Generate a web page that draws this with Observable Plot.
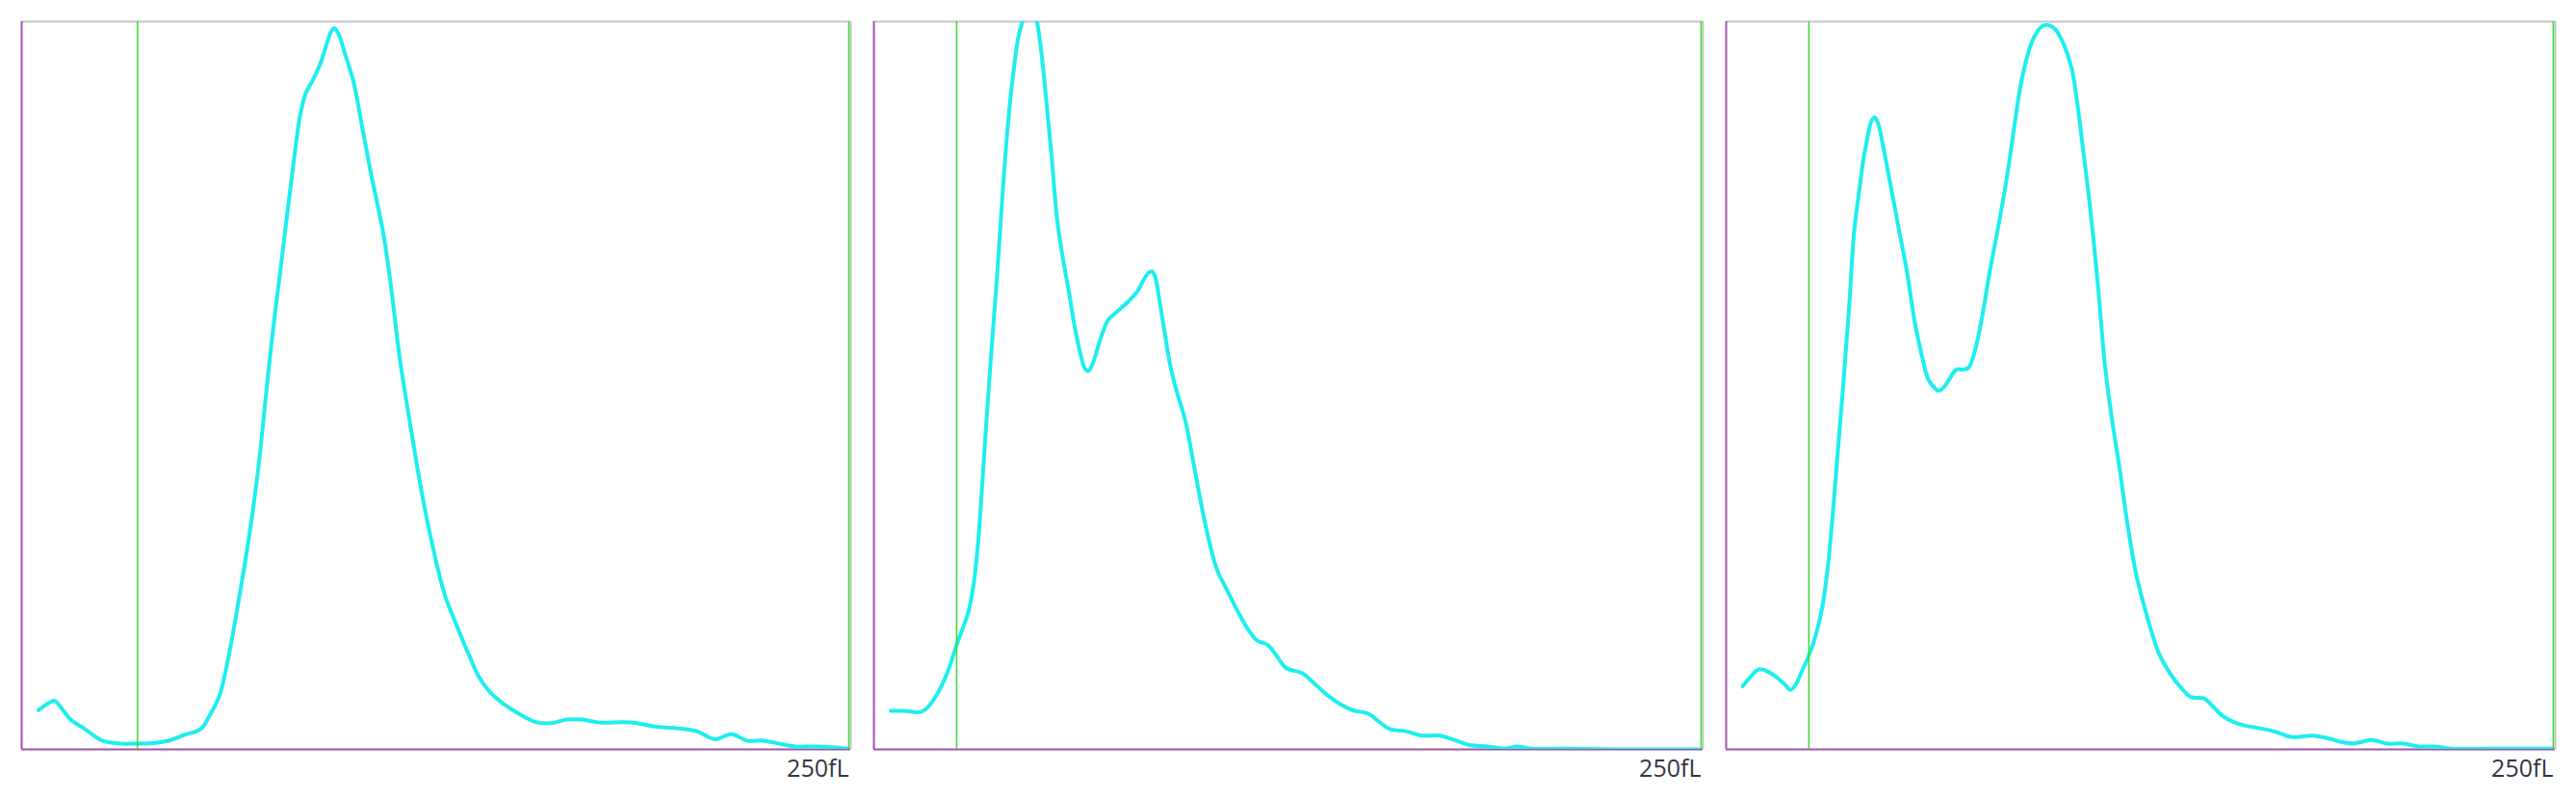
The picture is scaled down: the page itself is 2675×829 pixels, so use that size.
<!DOCTYPE html>
<html>
<head>
<meta charset="utf-8">
<script src="https://cdn.jsdelivr.net/npm/d3@7"></script>
<script src="https://cdn.jsdelivr.net/npm/@observablehq/plot@0.6"></script>
<style>
  html, body { margin: 0; padding: 0; background: #ffffff; width: 2675px; height: 829px; overflow: hidden; }
  #wrap { position: relative; width: 2675px; height: 829px; }
  #wrap svg { position: absolute; top: 0; }
</style>
</head>
<body>
<div id="wrap"></div>
<script>
// Volume (fL) and relative count for each histogram
const panel1X = [5.1,7.5,9.9,12.0,14.8,18.8,24.4,30.0,34.8,40.4,44.4,49.2,54.1,56.5,59.7,62.1,64.5,66.9,69.3,71.7,73.6,75.7,78.1,80.5,82.6,84.2,85.8,87.7,90.1,91.7,93.4,94.5,95.8,97.7,100.3,103.0,105.4,109.4,111.8,114.2,118.2,121.4,124.6,127.8,131.0,135.1,138.3,141.5,145.5,150.3,155.1,159.9,164.7,169.5,174.4,184.0,192.0,198.4,204.0,209.6,214.5,219.3,224.1,228.9,233.7,240.1,244.9,249.7];
const panel1Y = [5.4,6.2,6.7,5.7,4.1,2.9,1.2,0.8,0.8,0.9,1.2,2.0,2.8,4.4,7.3,11.8,17.6,24.0,31.0,39.4,47.7,56.7,65.6,74.6,82.3,87.4,90.3,91.9,94.2,96.4,98.7,99.3,98.5,95.8,91.9,85.5,79.7,70.8,63.1,54.1,42.6,34.2,27.2,21.4,17.6,13.1,9.9,7.9,6.3,4.9,3.8,3.6,4.1,4.1,3.7,3.7,3.1,2.9,2.5,1.4,2.1,1.2,1.2,0.8,0.4,0.4,0.3,0.1];

const panel2X = [5.1,9.1,11.5,13.6,15.6,18.0,20.4,22.8,24.7,26.8,28.7,30.3,31.6,32.7,34.0,35.6,37.2,38.8,40.4,42.0,43.6,45.2,47.2,48.9,50.5,52.1,53.7,55.3,56.9,58.9,60.8,62.6,63.7,64.8,66.1,67.7,69.3,70.9,73.3,76.5,79.7,81.6,82.9,84.1,85.0,86.1,87.7,89.3,90.9,94.2,96.6,99.0,101.4,103.8,106.2,110.2,113.4,115.8,119.0,121.4,124.6,129.4,133.5,137.5,140.7,144.7,149.5,152.7,155.9,160.7,165.5,171.1,176.0,180.0,185.6,190.4,194.4,198.4,208.0,224.1,249.7];
const panel2Y = [5.3,5.3,5.2,5.1,5.5,6.8,8.7,11.3,14.0,16.6,19.2,23.3,29.1,36.2,45.1,55.4,65.0,75.9,85.5,92.6,97.9,100.6,102.6,100.9,96.4,89.4,81.7,73.3,68.2,63.1,57.9,54.1,52.5,52.1,53.1,55.4,57.6,59.2,60.2,61.5,63.1,64.7,65.6,65.8,65.1,62.4,57.9,53.5,50.3,45.1,39.4,33.6,28.5,24.6,22.4,18.8,16.3,15.0,14.4,13.1,11.2,10.5,8.9,7.3,6.3,5.4,4.9,3.8,2.8,2.5,1.9,1.9,1.2,0.6,0.4,0.1,0.4,0.1,0.1,0.0,0.0];

const panel3X = [5.0,7.4,9.8,12.2,15.4,17.8,19.4,21.0,22.6,24.5,26.6,29.0,30.6,32.2,33.8,35.4,37.1,38.7,40.3,41.4,42.7,43.9,44.9,45.9,47.5,49.9,52.3,54.7,57.1,59.5,61.1,62.7,64.3,65.9,67.5,69.6,71.5,73.1,74.7,76.4,78.0,79.6,82.0,84.4,86.0,87.6,89.2,90.8,92.4,94.0,95.6,97.5,99.6,102.0,104.4,106.0,107.6,110.0,112.4,114.5,116.5,118.9,121.3,123.7,126.1,128.5,130.9,134.1,137.3,140.5,144.5,146.9,150.1,153.3,156.6,161.4,166.2,171.0,177.4,182.2,186.2,189.4,191.8,195.0,199.9,204.7,209.5,214.3,219.1,232.0,249.6];
const panel3Y = [8.7,10.0,11.0,10.8,9.9,8.9,8.2,8.9,10.5,12.4,15.0,19.5,24.6,32.3,41.3,50.3,60.5,71.4,77.2,81.0,84.2,86.5,87.0,86.2,82.9,77.2,71.4,65.6,58.6,53.5,50.9,49.9,49.4,49.9,51.0,52.3,52.3,52.5,54.1,57.3,61.2,65.6,71.4,77.5,82.3,87.4,91.9,95.1,97.4,98.8,99.6,99.7,99.1,97.1,93.8,89.4,83.6,74.6,63.7,52.8,45.8,38.7,31.0,24.6,20.1,16.3,13.1,10.5,8.6,7.2,7.0,6.0,4.6,3.8,3.3,2.9,2.4,1.7,1.9,1.5,1.0,0.8,1.0,1.3,0.8,0.8,0.4,0.4,0.1,0.1,0.1];

// Discriminator gates (fL) per histogram
const lowerGate = [35, 25, 25];
const upperGate = [250, 250, 250];
// Axis label
const tickValues = [250];
const tickLabels = ["250fL"];

const xMax = 250.6;
const yMax = 100.2;

const panels = [
  {x: panel1X, y: panel1Y},
  {x: panel2X, y: panel2Y},
  {x: panel3X, y: panel3Y}
];
const lefts = [20, 905, 1790];

const wrap = document.getElementById("wrap");
panels.forEach((p, i) => {
  const rows = p.x.map((v, j) => ({fl: v, count: p.y[j]}));
  const labels = tickValues.map((v, j) => ({fl: v, label: tickLabels[j]}));
  const chart = Plot.plot({
    width: 865,
    height: 829,
    marginLeft: 2,
    marginRight: 2,
    marginTop: 22,
    marginBottom: 51,
    style: {background: "transparent", overflow: "visible"},
    x: {domain: [0, xMax], axis: null},
    y: {domain: [0, yMax], axis: null},
    marks: [
      Plot.ruleY([yMax], {stroke: "#c6c6c6", strokeWidth: 2}),
      Plot.ruleX([xMax], {stroke: "#c6c6c6", strokeWidth: 2}),
      Plot.ruleX([0], {stroke: "#a052b0", strokeWidth: 2}),
      Plot.ruleY([0], {stroke: "#a052b0", strokeWidth: 2}),
      Plot.line(rows, {x: "fl", y: "count", stroke: "#1eeeee", strokeWidth: 4, curve: "catmull-rom", clip: true}),
      Plot.ruleX([lowerGate[i]], {stroke: "#3ddc3d", strokeWidth: 1.6}),
      Plot.ruleX([upperGate[i]], {stroke: "#3ddc3d", strokeWidth: 1.6}),
      Plot.text(labels, {x: "fl", y: () => 0, text: "label", dy: 20, textAnchor: "end", lineAnchor: "middle",
        fontSize: 25, fill: "#353545", fontFamily: "'Open Sans', sans-serif"})
    ]
  });
  chart.style.left = lefts[i] + "px";
  wrap.appendChild(chart);
});
</script>
</body>
</html>
